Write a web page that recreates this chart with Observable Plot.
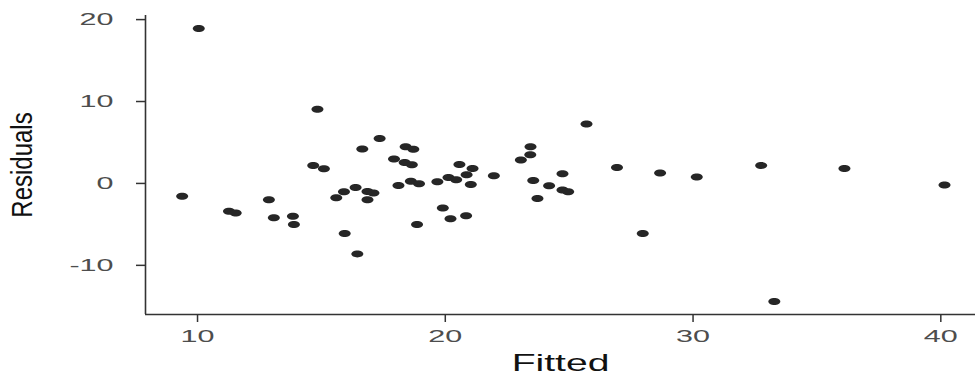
<!DOCTYPE html>
<html>
<head>
<meta charset="utf-8">
<script src="https://cdn.jsdelivr.net/npm/d3@7"></script>
<script src="https://cdn.jsdelivr.net/npm/@observablehq/plot@0.6"></script>
<style>
  html, body { margin: 0; padding: 0; background: #fff; }
  #chart { width: 975px; height: 376px; }
</style>
</head>
<body>
<div id="chart"></div>
<script>
// Data
const fitted = [
  9.38, 10.05, 11.27, 11.54, 12.88, 13.08, 13.85, 13.89, 14.67, 14.84,
  15.1, 15.6, 15.91, 15.94, 16.38, 16.45, 16.65, 16.86, 16.86, 17.1,
  17.35, 17.93, 18.11, 18.36, 18.40, 18.61, 18.65, 18.71, 18.86, 18.94,
  19.68, 19.9, 20.13, 20.21, 20.44, 20.57, 20.84, 20.86, 21.03, 21.1,
  21.96, 23.05, 23.43, 23.44, 23.55, 23.72, 24.19, 24.73, 24.73, 24.96,
  25.7, 26.93, 27.97, 28.67, 30.15, 32.75, 33.28, 36.11, 40.15
];
const residuals = [
  -1.55, 18.9, -3.4, -3.6, -2.0, -4.2, -4.0, -5.0, 2.2, 9.06,
  1.8, -1.75, -1.01, -6.1, -0.49, -8.6, 4.2, -0.98, -1.99, -1.18,
  5.5, 2.97, -0.24, 2.56, 4.47, 0.28, 2.28, 4.18, -5.0, -0.04,
  0.2, -3.0, 0.73, -4.3, 0.45, 2.32, -3.94, 1.06, -0.12, 1.83,
  0.93, 2.85, 3.5, 4.47, 0.37, -1.83, -0.28, 1.18, -0.81, -1.01,
  7.24, 1.95, -6.1, 1.26, 0.77, 2.2, -14.4, 1.83, -0.2
];
const xTicks = [10, 20, 30, 40];
const yTicks = [-10, 0, 10, 20];
const xDomain = [7.9, 41.4];
const yDomain = [-16, 20.5];
const xLabel = "Fitted";
const yLabel = "Residuals";

const points = fitted.map((f, i) => ({fitted: f, residual: residuals[i]}));

// Ellipse symbol (points appear horizontally stretched in the reference)
const ellipse = {
  draw(ctx) {
    const a = 6, b = 3.5, k = 0.5523;
    ctx.moveTo(a, 0);
    ctx.bezierCurveTo(a, b * k, a * k, b, 0, b);
    ctx.bezierCurveTo(-a * k, b, -a, b * k, -a, 0);
    ctx.bezierCurveTo(-a, -b * k, -a * k, -b, 0, -b);
    ctx.bezierCurveTo(a * k, -b, a, -b * k, a, 0);
    ctx.closePath();
  }
};

const chart = Plot.plot({
  width: 975,
  height: 376,
  marginTop: 15,
  marginRight: 0,
  marginBottom: 62,
  marginLeft: 145,
  style: {fontFamily: "'Liberation Sans', Arial, sans-serif", background: "#fff"},
  x: {domain: xDomain, axis: null},
  y: {domain: yDomain, axis: null},
  marks: [
    Plot.ruleX([xDomain[0]], {stroke: "#333", strokeWidth: 1.6}),
    Plot.ruleY([yDomain[0]], {stroke: "#333", strokeWidth: 1.6}),
    Plot.axisY({ticks: yTicks, tickFormat: d => String(d), tickSize: 9, tickPadding: 23, fontSize: 16.5, stroke: "#333", fill: "#4d4d4d", strokeWidth: 1.5, label: null}),
    Plot.axisX({ticks: xTicks, tickFormat: d => String(d), tickSize: 8, tickPadding: 8, fontSize: 16.5, stroke: "#333", fill: "#4d4d4d", strokeWidth: 1.5, label: null}),
    Plot.dot(points, {x: "fitted", y: "residual", symbol: ellipse, fill: "#262626", stroke: "none", r: 4}),
    Plot.text([yLabel], {frameAnchor: "left", dx: -123, rotate: -90, text: d => d, fontSize: 24, fill: "#111", textAnchor: "middle", lineAnchor: "middle"}),
    Plot.text([xLabel], {frameAnchor: "bottom", dy: 49, text: d => d, fontSize: 23, fill: "#111", textAnchor: "middle", lineAnchor: "middle"})
  ]
});

// Horizontal stretch of text, as in the reference
chart.querySelectorAll("text").forEach(t => {
  const s = t.textContent.trim();
  let sx = 1, sy = 1;
  if (s === yLabel) sy = 1.25;
  else if (s === xLabel) sx = 1.7;
  else sx = 1.85;
  const tr = t.getAttribute("transform");
  if (tr) {
    t.setAttribute("transform", `${tr} scale(${sx},${sy})`);
  } else {
    const x = +t.getAttribute("x") || 0, y = +t.getAttribute("y") || 0;
    t.setAttribute("transform", `translate(${x},${y}) scale(${sx},${sy}) translate(${-x},${-y})`);
  }
});

document.getElementById("chart").appendChild(chart);
</script>
</body>
</html>
